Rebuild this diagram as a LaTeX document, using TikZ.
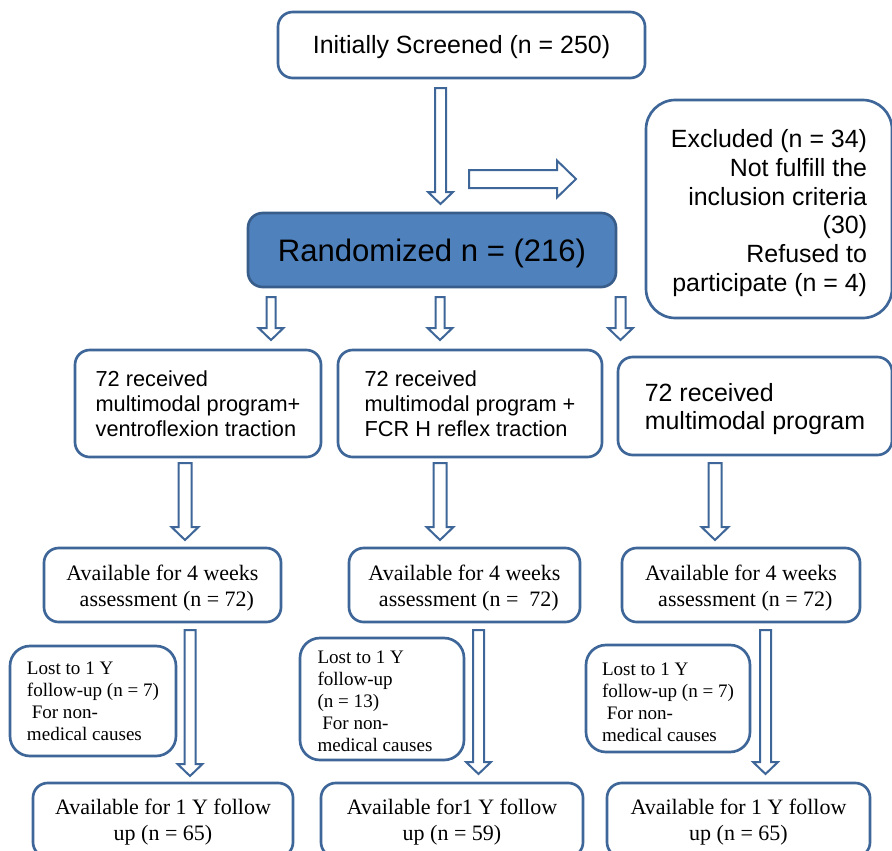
\documentclass[tikz,border=0pt]{standalone}
\usepackage{fontspec}
\setmainfont{Liberation Serif}
\newfontfamily\arialf{Liberation Sans}
\usetikzlibrary{calc}
\definecolor{bordc}{RGB}{62,102,152}
\definecolor{fillc}{RGB}{79,129,189}
\definecolor{darkb}{RGB}{56,93,138}
\newcommand{\pss}[1]{\rule{0pt}{\dimexpr0.73em+#1\relax}}
\newcommand{\psr}[1]{\rule{0pt}{\dimexpr0.69em+#1\relax}}
\tikzset{
  box/.style={draw=bordc, line width=2pt, rounded corners=11pt, inner sep=0pt, fill=white, text=black},
  sz/.style 2 args={minimum width=#1*0.75pt, minimum height=#2*0.75pt},
  barrow/.style={draw=bordc, line width=1.5pt, fill=white, line join=miter},
  sanslg/.style={font=\arialf\fontsize{18.7}{21.5}\selectfont},
  sansmd/.style={font=\arialf\fontsize{16.3}{18.75}\selectfont},
  sermd/.style={font=\fontsize{16.5}{19.5}\selectfont},
  sersm/.style={font=\fontsize{14.3}{16.5}\selectfont},
}
\newcommand{\bdown}[5]{%
  \draw[barrow] ($(#1)+(-#3,0)$) -- ($(#1)+(#3,0)$) -- ($(#2)+(#3,-#5)$) -- ($(#2)+(#4,-#5)$) -- (#2)
    -- ($(#2)+(-#4,-#5)$) -- ($(#2)+(-#3,-#5)$) -- cycle;}
\newcommand{\bright}[5]{%
  \draw[barrow] ($(#1)+(0,-#3)$) -- ($(#2)+(-#5,-#3)$) -- ($(#2)+(-#5,-#4)$) -- (#2)
    -- ($(#2)+(-#5,#4)$) -- ($(#2)+(-#5,#3)$) -- ($(#1)+(0,#3)$) -- cycle;}
\begin{document}
\begin{tikzpicture}[x=0.75pt,y=-0.75pt]
\useasboundingbox (0,0) rectangle (892,850);
% boxes
\node[box, sz={367}{66}, sanslg] (top) at (461.5,45) {\pss{3pt}Initially Screened (n = 250)};
\node[box, sz={246}{218}, rounded corners=22pt, sanslg, align=right] (excl) at (769,209)
  {\pss{6pt}Excluded (n = 34)\\Not fulfill the\\inclusion criteria\\(30)\\Refused to\\participate (n = 4)};
\node[box, sz={368}{74}, fill=fillc, draw=darkb, font=\arialf\fontsize{23.3}{26}\selectfont] (rand) at (432,250)
  {\pss{4.5pt}Randomized n = (216)};
\node[box, sz={246}{107}, sansmd, align=left] (r2a) at (198,403.5)
  {72 received\\multimodal program+\\ventroflexion traction};
\node[box, sz={264}{107}, sansmd, align=left] (r2b) at (470,403.5)
  {72 received\\multimodal program +\\FCR H reflex traction};
\node[box, sz={274}{98}, font=\arialf\fontsize{18.7}{21}\selectfont, align=left] (r2c) at (755,406)
  {\pss{4.5pt}72 received\\multimodal program};
\node[box, sz={237}{74}, sermd, align=center] (r3a) at (162.5,585)
  {\psr{4.5pt}Available for 4 weeks\\\hspace{0.4em}assessment (n = 72)};
\node[box, sz={231}{74}, sermd, align=center] (r3b) at (464.5,585)
  {\psr{4.5pt}Available for 4 weeks\\\hspace{0.4em}assessment (n =\hspace{0.5em}72)};
\node[box, sz={238}{74}, sermd, align=center] (r3c) at (741,585)
  {\psr{4.5pt}Available for 4 weeks\\\hspace{0.4em}assessment (n = 72)};
\node[box, sz={166}{110}, rounded corners=15pt, sersm, align=left] (l1) at (93,701)
  {Lost to 1 Y\\follow-up (n = 7)\\\hspace{0.25em}For non-\\medical causes};
\node[box, sz={164}{122}, rounded corners=15pt, sersm, align=left] (l2) at (382,699)
  {\psr{3.75pt}Lost to 1 Y\\follow-up\\(n = 13)\\\hspace{0.25em}For non-\\medical causes\rule{10.5pt}{0pt}};
\node[box, sz={164}{107}, rounded corners=15pt, sersm, align=left] (l3) at (668,698.5)
  {\psr{5.25pt}Lost to 1 Y\\follow-up (n = 7)\\\hspace{0.25em}For non-\\medical causes};
\node[box, sz={260}{74}, sermd, align=center] (b1) at (163,820)
  {\psr{3pt}Available for 1 Y follow\\up (n = 65)};
\node[box, sz={262}{74}, sermd, align=center] (b2) at (452,820)
  {\psr{3pt}Available for1 Y follow\\up (n = 59)};
\node[box, sz={263}{74}, sermd, align=center] (b3) at (738.5,820)
  {\psr{3pt}Available for 1 Y follow\\up (n = 65)};
% arrow end points
\coordinate (a1s) at (440.5,88);  \coordinate (a1t) at (440.5,204);
\coordinate (a2s) at (469,179);   \coordinate (a2t) at (576,179);
\coordinate (s1s) at (271,297);   \coordinate (s1t) at (271,340);
\coordinate (s2s) at (440,297);   \coordinate (s2t) at (440,340);
\coordinate (s3s) at (620.5,297); \coordinate (s3t) at (620.5,340);
\coordinate (m1s) at (185,463);   \coordinate (m1t) at (185,540);
\coordinate (m2s) at (440,463);   \coordinate (m2t) at (440,540);
\coordinate (m3s) at (715,463);   \coordinate (m3t) at (715,540);
\coordinate (n1s) at (190,630);   \coordinate (n1t) at (190,776);
\coordinate (n2s) at (478.5,630); \coordinate (n2t) at (478.5,774);
\coordinate (n3s) at (765.5,630); \coordinate (n3t) at (765.5,774);
% block arrows
\bdown{a1s}{a1t}{5.5}{12.5}{12}
\bright{a2s}{a2t}{9}{18.5}{19}
\bdown{s1s}{s1t}{4.5}{12.5}{12}
\bdown{s2s}{s2t}{4.5}{12.5}{12}
\bdown{s3s}{s3t}{5}{12.5}{12}
\bdown{m1s}{m1t}{6.5}{13.5}{13}
\bdown{m2s}{m2t}{6.5}{13.5}{13}
\bdown{m3s}{m3t}{6.5}{13.5}{13}
\bdown{n1s}{n1t}{5.5}{12.5}{12}
\bdown{n2s}{n2t}{5.5}{12.5}{12}
\bdown{n3s}{n3t}{5.5}{12.5}{12}
\end{tikzpicture}
\end{document}
